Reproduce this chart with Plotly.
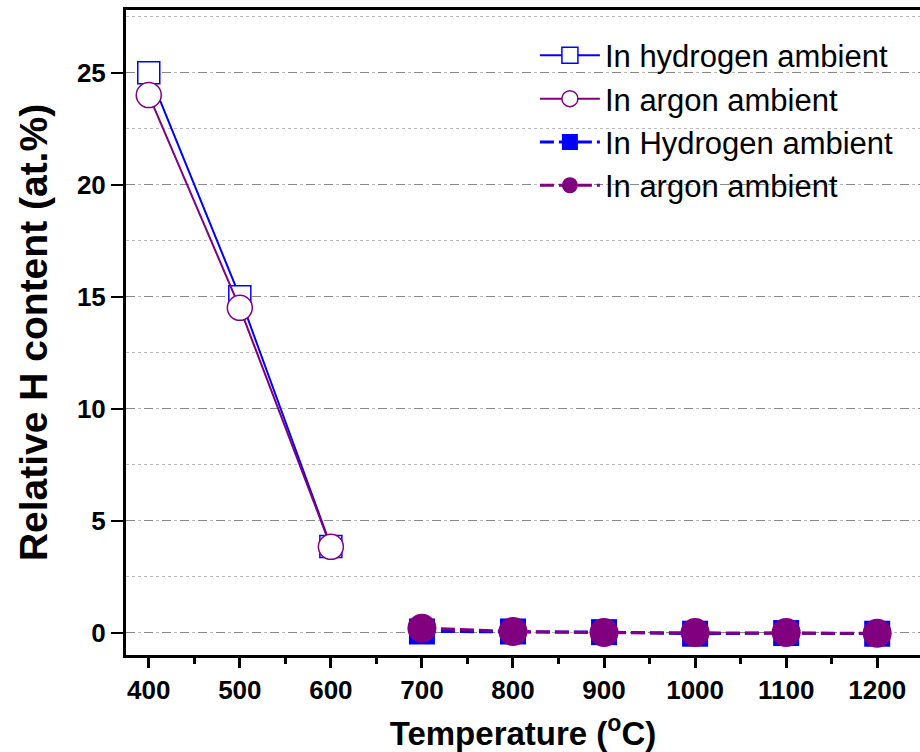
import plotly.graph_objects as go

temp_low = [400, 500, 600]
h_open = [25.0, 15.0, 3.85]
ar_open = [24.0, 14.5, 3.83]

temp_high = [700, 800, 900, 1000, 1100, 1200]
h_filled = [0.05, 0.05, 0.02, -0.05, -0.02, -0.05]
ar_filled = [0.2, 0.05, 0.0, 0.0, 0.0, -0.03]

names = ["In hydrogen ambient", "In argon ambient", "In Hydrogen ambient", "In argon ambient"]
x_ticks = [400, 500, 600, 700, 800, 900, 1000, 1100, 1200]
y_ticks = [0, 5, 10, 15, 20, 25]

BLUE = "#0000FF"
PURPLE = "#800080"
FONT = "Liberation Sans, Arial, sans-serif"

fig = go.Figure()
fig.add_trace(go.Scatter(x=temp_low, y=h_open, name=names[0], mode="lines+markers",
                         line=dict(color=BLUE, width=2),
                         marker=dict(symbol="square", size=22, color="white", line=dict(color=BLUE, width=1.5)),
                         legendgroup="a"))
fig.add_trace(go.Scatter(x=temp_low, y=ar_open, name=names[1], mode="lines+markers",
                         line=dict(color=PURPLE, width=2),
                         marker=dict(symbol="circle", size=25, color="white", line=dict(color=PURPLE, width=1.5)),
                         legendgroup="b"))
fig.add_trace(go.Scatter(x=temp_high, y=h_filled, name=names[2], mode="lines+markers",
                         line=dict(color=BLUE, width=3, dash="14px,5px"),
                         marker=dict(symbol="square", size=26, color=BLUE),
                         legendgroup="c"))
fig.add_trace(go.Scatter(x=temp_high, y=ar_filled, name=names[3], mode="lines+markers",
                         line=dict(color=PURPLE, width=3, dash="14px,5px"),
                         marker=dict(symbol="circle", size=29, color=PURPLE),
                         legendgroup="d"))

tick_font = dict(family=FONT, size=26, color="black")

fig.update_layout(
    width=920, height=752,
    margin=dict(l=126, r=0, t=10, b=97),
    paper_bgcolor="white", plot_bgcolor="white",
    font=dict(family=FONT, color="black"),
    legend=dict(x=0.515, y=0.971, xanchor="left", yanchor="top",
                font=dict(family=FONT, size=31, color="black"),
                bgcolor="rgba(0,0,0,0)", tracegroupgap=0, itemwidth=60),
    xaxis=dict(range=[375, 1247], tickvals=x_ticks, ticktext=[f"<b>{v}</b>" for v in x_ticks],
               tickfont=tick_font, showline=True, linecolor="black", linewidth=3, mirror=True,
               ticks="outside", ticklen=10, tickwidth=3, tickcolor="black",
               showgrid=False, zeroline=False,
               minor=dict(dtick=50, tick0=450, ticks="outside", ticklen=6, tickwidth=3, tickcolor="black"),
               title=dict(text="<b>Temperature (<sup>o</sup>C)</b>",
                          font=dict(family=FONT, size=33, color="black"), standoff=20)),
    yaxis=dict(range=[-1.0, 27.8], tickvals=y_ticks, ticktext=[f"<b>{v}</b>" for v in y_ticks],
               tickfont=tick_font, showline=True, linecolor="black", linewidth=3,
               ticks="outside", ticklen=12, tickwidth=2, tickcolor="black",
               showgrid=True, gridcolor="#888888", griddash="dash", gridwidth=1, zeroline=False,
               minor=dict(dtick=2.5, tick0=0, showgrid=True, gridcolor="#bbbbbb", griddash="dot", gridwidth=1),
               title=dict(text="<b>Relative H content (at.%)</b>",
                          font=dict(family=FONT, size=39, color="black"), standoff=18)),
)

fig.write_html("out.html")
